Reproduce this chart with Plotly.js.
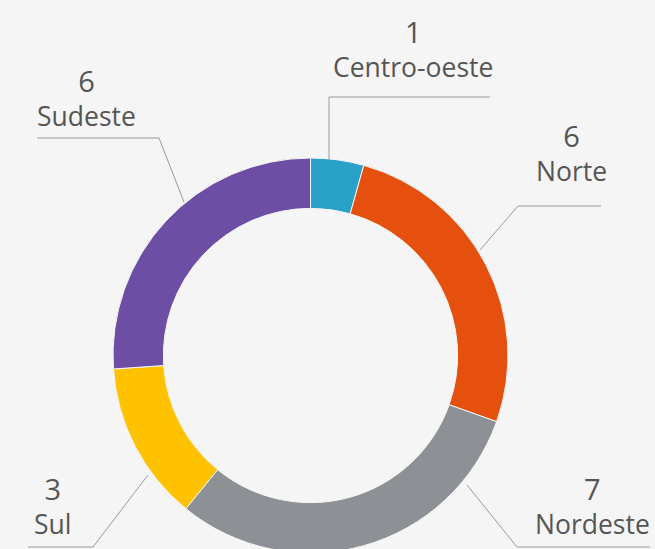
<!DOCTYPE html>
<html>
<head>
<meta charset="utf-8">
<script src="https://cdn.plot.ly/plotly-3.0.1.min.js"></script>
<style>
html,body{margin:0;padding:0;background:#f5f5f5;overflow:hidden;width:655px;height:549px;}
#chart{width:655px;height:555px;}
</style>
</head>
<body>
<div id="chart"></div>
<script>
// Data
const regions = ["Centro-oeste", "Norte", "Nordeste", "Sul", "Sudeste"];
const counts = [1, 6, 7, 3, 6];
const colors = ["#2aa1c9", "#e5500f", "#8d9094", "#fec200", "#6c4ea5"];

const W = 655, H = 555;
const px = x => x / W;
const py = y => (H - y) / H;

// label placement (pixel centre of the two-line label block)
const labelPos = [
  {x: 413, y: 49},
  {x: 571, y: 153},
  {x: 592, y: 505},
  {x: 52, y: 505},
  {x: 86, y: 97}
];
// leader lines (pixel polylines)
const leaders = [
  [[329, 160], [329, 97], [490, 97]],
  [[480, 250], [518, 206], [601, 206]],
  [[467, 485], [517, 547], [650, 547]],
  [[148, 475], [93, 547], [28, 547]],
  [[184, 202], [159, 138], [37, 138]]
];

const shapes = [];
leaders.forEach(pts => {
  for (let i = 0; i < pts.length - 1; i++) {
    shapes.push({
      type: "line", xref: "paper", yref: "paper",
      x0: px(pts[i][0]), y0: py(pts[i][1]),
      x1: px(pts[i + 1][0]), y1: py(pts[i + 1][1]),
      line: {color: "#9a9a9a", width: 1}
    });
  }
});

const annotations = regions.map((r, i) => {
  const p = labelPos[i];
  return {
    text: '<span style="font-size:29px">' + counts[i] + '</span><br>' + r,
    xref: "paper", yref: "paper",
    x: px(p.x), y: py(p.y), xanchor: "center", yanchor: "middle", align: "center",
    showarrow: false, font: {family: "Open Sans", size: 26.5, color: "#555555"}
  };
});

const trace = {
  type: "pie",
  labels: regions,
  values: counts,
  sort: false,
  direction: "clockwise",
  rotation: 0,
  hole: 0.745,
  textinfo: "none",
  hoverinfo: "label+value",
  marker: {colors: colors, line: {color: "#f5f5f5", width: 1}},
  domain: {x: [px(113), px(508)], y: [py(553), py(158)]},
  showlegend: false
};

const layout = {
  width: W, height: H,
  margin: {l: 0, r: 0, t: 0, b: 0},
  paper_bgcolor: "#f5f5f5",
  plot_bgcolor: "#f5f5f5",
  shapes: shapes,
  annotations: annotations,
  showlegend: false
};

Plotly.newPlot("chart", [trace], layout, {displayModeBar: false, staticPlot: true});
</script>
</body>
</html>
